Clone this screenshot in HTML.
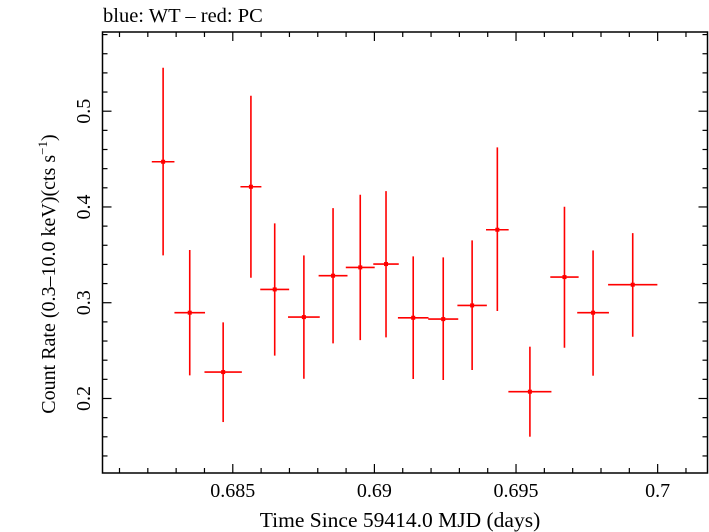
<!DOCTYPE html>
<html><head><meta charset="utf-8"><style>
html,body{margin:0;padding:0;background:#fff;}
svg{display:block;font-family:"Liberation Serif",serif;}
</style></head><body>
<svg id="chart" width="709" height="532" viewBox="0 0 709 532">
<text x="103" y="22" font-size="20.5" fill="#000">blue: WT – red: PC</text>
<rect x="102.5" y="32" width="605" height="441" fill="none" stroke="#000" stroke-width="1.5"/>
<g id="ticks"></g>
<g id="marks"></g>
<text x="400" y="527" font-size="21.5" text-anchor="middle">Time Since 59414.0 MJD (days)</text>
<text transform="translate(55,274) rotate(-90)" font-size="20" text-anchor="middle">Count Rate (0.3–10.0 keV)(cts s<tspan font-size="13" dy="-8">−1</tspan><tspan dy="8">)</tspan></text>
</svg>
<script>
const times=[0.68254,0.68348,0.68466,0.68564,0.68648,0.68751,0.68854,0.68950,0.69041,0.69137,0.69243,0.69345,0.69434,0.69549,0.69671,0.69772,0.69912];
const timeErr=[0.0004,0.00054,0.00066,0.00037,0.00051,0.00056,0.00051,0.00051,0.00045,0.00054,0.00053,0.00052,0.0004,0.00076,0.0005,0.00056,0.00087];
const rates=[0.4472,0.2896,0.2276,0.4211,0.3139,0.285,0.3282,0.3369,0.3404,0.2843,0.2829,0.2972,0.3762,0.2071,0.3268,0.2896,0.3188];
const rateHi=[0.5454,0.355,0.2795,0.5161,0.3828,0.3494,0.3988,0.4128,0.4166,0.3484,0.3473,0.3651,0.4622,0.2541,0.4002,0.3546,0.3727];
const rateLo=[0.3494,0.2241,0.1754,0.3261,0.2447,0.2206,0.2575,0.261,0.2638,0.2203,0.2193,0.2297,0.2913,0.1601,0.253,0.2238,0.2645];
const xTickLabels=["0.685","0.69","0.695","0.7"];
const xTickValues=[0.685,0.69,0.695,0.7];
const yTickLabels=["0.2","0.3","0.4","0.5"];
const yTickValues=[0.2,0.3,0.4,0.5];

const L=102.5,R=707.5,T=32,B=473;
const xMin=0.68040,xMax=0.70176,yMin=0.1222,yMax=0.5827;
const xs=v=>L+(v-xMin)/(xMax-xMin)*(R-L);
const ys=v=>B-(v-yMin)/(yMax-yMin)*(B-T);
const NS="http://www.w3.org/2000/svg";
const svg=document.getElementById('chart');
const tg=document.getElementById('ticks');
const mg=document.getElementById('marks');
function ln(g,x1,y1,x2,y2,c,w){const l=document.createElementNS(NS,'line');l.setAttribute('x1',x1);l.setAttribute('y1',y1);l.setAttribute('x2',x2);l.setAttribute('y2',y2);l.setAttribute('stroke',c);l.setAttribute('stroke-width',w);g.appendChild(l);return l;}
for(let i=681;i<=701;i++){const v=i/1000;const x=xs(v);const maj=(i%5===0);const len=maj?9:5;
 const a=ln(tg,x,B,x,B-len,'#000',1.2);
 
 
 const b=ln(tg,x,T,x,T+len,'#000',1.2);
 
 }
for(let i=7;i<=29;i++){const v=i*0.02;const y=ys(v);const maj=(i%5===0);const len=maj?9:5;
 const a=ln(tg,L,y,L+len,y,'#000',1.2);
 
 
 const b=ln(tg,R,y,R-len,y,'#000',1.2);
 
 }
xTickValues.forEach((v,i)=>{const t=document.createElementNS(NS,'text');t.setAttribute('x',xs(v));t.setAttribute('y',497);t.setAttribute('font-size','20');t.setAttribute('text-anchor','middle');t.textContent=xTickLabels[i];
 
 
 svg.appendChild(t);});
yTickValues.forEach((v,i)=>{const t=document.createElementNS(NS,'text');t.setAttribute('transform','translate(90,'+ys(v)+') rotate(-90)');t.setAttribute('font-size','20');t.setAttribute('text-anchor','middle');t.textContent=yTickLabels[i];
 
 
 svg.appendChild(t);});
times.forEach((tv,i)=>{const g=document.createElementNS(NS,'g');
 
 
 ln(g,xs(tv-timeErr[i]),ys(rates[i]),xs(tv+timeErr[i]),ys(rates[i]),'#ff0000',1.6);
 ln(g,xs(tv),ys(rateLo[i]),xs(tv),ys(rateHi[i]),'#ff0000',1.6);
 const c=document.createElementNS(NS,'rect');c.setAttribute('x',xs(tv)-2);c.setAttribute('y',ys(rates[i])-2);c.setAttribute('width',4);c.setAttribute('height',4);c.setAttribute('fill','#ff0000');g.appendChild(c);
 mg.appendChild(g);});
</script>
</body></html>
